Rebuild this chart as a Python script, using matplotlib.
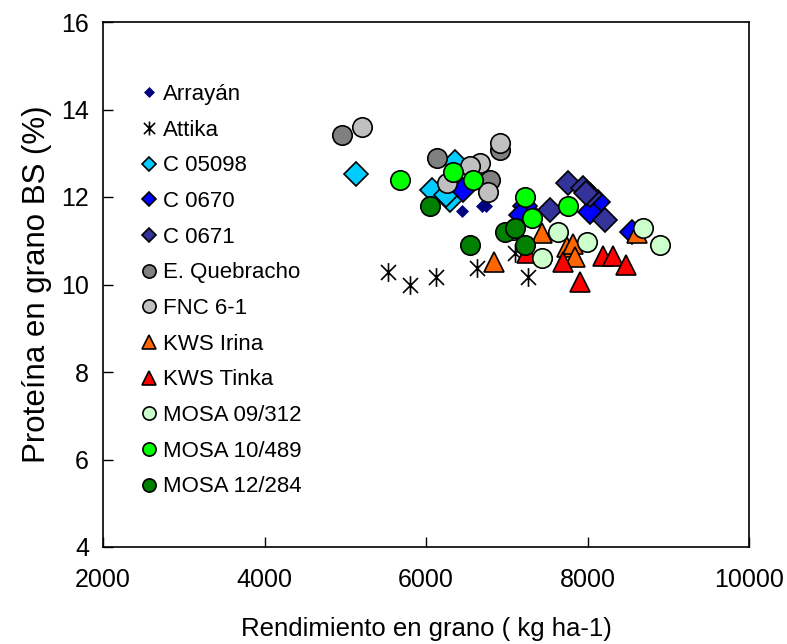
import matplotlib
matplotlib.use("Agg")
import matplotlib.pyplot as plt
from matplotlib.lines import Line2D
from matplotlib.path import Path

plt.rcParams["font.family"] = ["Liberation Sans", "DejaVu Sans"]

# rendimiento (kg/ha) y proteina (%) por cultivar
arrayan_x = [6446, 6690, 6740, 7300, 8600]
arrayan_y = [11.68, 11.8, 11.8, 11.75, 11.15]
attika_x = [5529, 5802, 6124, 6631, 7102, 7263]
attika_y = [10.29, 10.0, 10.17, 10.38, 10.72, 10.17]
c05098_x = [5133, 6074, 6297, 6359, 6250]
c05098_y = [12.53, 12.16, 11.93, 12.8, 12.05]
c0670_x = [6458, 7226, 7180, 8130, 8031, 8551]
c0670_y = [12.16, 11.79, 11.6, 11.89, 11.66, 11.2]
c0671_x = [7758, 7944, 8030, 7536, 8217, 7980]
c0671_y = [12.32, 12.2, 12.05, 11.7, 11.47, 12.1]
quebracho_x = [4960, 6136, 6916, 6793]
quebracho_y = [13.42, 12.89, 13.07, 12.39]
fnc_x = [5207, 6916, 6669, 6545, 6260, 6768]
fnc_y = [13.6, 13.23, 12.78, 12.7, 12.32, 12.11]
irina_x = [6842, 7437, 7746, 7820, 7845, 8613]
irina_y = [10.51, 11.18, 10.86, 10.93, 10.63, 11.18]
tinka_x = [7250, 7697, 7907, 8192, 8316, 8477]
tinka_y = [10.72, 10.51, 10.06, 10.65, 10.65, 10.45]
mosa09_x = [7077, 7437, 7635, 7994, 8687, 8898]
mosa09_y = [11.25, 10.6, 11.2, 10.97, 11.29, 10.9]
mosa10_x = [5678, 6334, 6582, 7226, 7313, 7758]
mosa10_y = [12.39, 12.57, 12.39, 12.0, 11.52, 11.79]
mosa12_x = [6049, 6545, 6978, 7102, 7226]
mosa12_y = [11.79, 10.9, 11.2, 11.29, 10.9]

# asterisco: linea vertical + X
star = Path(
    [(0, 1), (0, -1), (-0.8, 0.8), (0.8, -0.8), (-0.8, -0.8), (0.8, 0.8)],
    [Path.MOVETO, Path.LINETO, Path.MOVETO, Path.LINETO, Path.MOVETO, Path.LINETO],
)

# (label, x, y, marker, face, size, legend size)
series = [
    ("Arrayán", arrayan_x, arrayan_y, "D", "#000080", 6.0, 5.5),
    ("Attika", attika_x, attika_y, star, "black", 13.5, 10),
    ("C 05098", c05098_x, c05098_y, "D", "#00CCFF", 11.8, 7.5),
    ("C 0670", c0670_x, c0670_y, "D", "#0000FF", 11.8, 7.5),
    ("C 0671", c0671_x, c0671_y, "D", "#333399", 11.8, 7.5),
    ("E. Quebracho", quebracho_x, quebracho_y, "o", "#808080", 14, 9.5),
    ("FNC 6-1", fnc_x, fnc_y, "o", "#C0C0C0", 14, 9.5),
    ("KWS Irina", irina_x, irina_y, "^", "#FF6600", 15, 10.5),
    ("KWS Tinka", tinka_x, tinka_y, "^", "#FF0000", 15, 10.5),
    ("MOSA 09/312", mosa09_x, mosa09_y, "o", "#CCFFCC", 14, 9.5),
    ("MOSA 10/489", mosa10_x, mosa10_y, "o", "#00FF00", 14, 9.5),
    ("MOSA 12/284", mosa12_x, mosa12_y, "o", "#008000", 14, 9.5),
]

fig = plt.figure(figsize=(7.87, 6.44), dpi=100)
ax = fig.add_axes([103 / 787, 1 - 547 / 644, 646 / 787, 525 / 644])

handles = []
for label, xs, ys, mk, fc, ms, lms in series:
    if mk is star:
        kw = dict(color="black", markeredgewidth=1.2)
    elif label == "Arrayán":
        kw = dict(markerfacecolor=fc, markeredgecolor=fc, markeredgewidth=0.5)
    else:
        kw = dict(markerfacecolor=fc, markeredgecolor="black", markeredgewidth=1.2)
    ax.plot(xs, ys, linestyle="none", marker=mk, markersize=ms, **kw)
    handles.append(Line2D([], [], linestyle="none", marker=mk, markersize=lms,
                          label=label, **kw))

ax.set_xlim(2000, 10000)
ax.set_ylim(4, 16)
ax.set_xticks([2000, 4000, 6000, 8000, 10000])
ax.set_yticks([4, 6, 8, 10, 12, 14, 16])
ax.tick_params(direction="in", length=7, width=1, labelsize=18,
               top=False, right=False)
ax.tick_params(axis="x", pad=15)
ax.tick_params(axis="y", pad=10)
for s in ax.spines.values():
    s.set_linewidth(1.2)

ax.set_xlabel("Rendimiento en grano ( kg ha-1)", fontsize=18.5, labelpad=18)
ax.set_ylabel("Proteína en grano BS (%)", fontsize=22.5, labelpad=7)

ax.legend(handles=handles, loc="upper left", bbox_to_anchor=(0.058, 0.882),
          frameon=False, fontsize=16, labelspacing=0.66, handlelength=0.8,
          handletextpad=0.22, borderpad=0, borderaxespad=0)

fig.savefig("out.png", dpi=100)
